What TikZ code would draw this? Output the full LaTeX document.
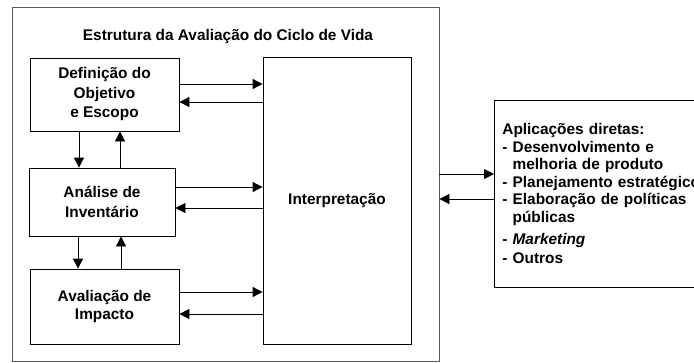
\documentclass[tikz,border=0pt]{standalone}
\usepackage{fontspec}
\setmainfont{Liberation Sans}
\usetikzlibrary{arrows.meta}

\begin{document}
\begin{tikzpicture}[x=1pt, y=-1pt,
        every node/.style={font=\fontsize{15.4}{19.5}\selectfont\bfseries},
        stage/.style={draw=black, line width=0.8pt, align=center, inner sep=0pt},
        flow/.style={-{Triangle[length=10pt, width=10pt]}, line width=0.8pt}]
    \useasboundingbox (0,0) rectangle (694,362);

    \node[draw=black!65, line width=0.8pt, minimum width=427pt, minimum height=354pt, inner sep=0pt] (frame) at (225.5,184) {};
    \node (title) at (228,37) {Estrutura da Avaliação do Ciclo de Vida};

    \node[stage, minimum width=149pt, minimum height=73pt] (def) at (104.5,94.5) {Definição do\\Objetivo\\e Escopo};
    \node[stage, minimum width=146pt, minimum height=68pt] (ana) at (102,202) {Análise de\\Inventário};
    \node[stage, minimum width=149pt, minimum height=75pt, font=\fontsize{15.4}{17.5}\selectfont\bfseries] (ava) at (104.5,306.5) {Avaliação de\\Impacto};
    \node[stage, minimum width=148pt, minimum height=287pt] (interp) at (337,200.5) {Interpretação};

    \node[draw=black, line width=0.8pt, anchor=north west, minimum height=187pt, text width=240pt, inner sep=8pt,
          align=left, font=\fontsize{15.4}{17.5}\selectfont\bfseries] (apl) at (494,100)
        {Aplicações diretas:\\
         - Desenvolvimento e\\
         \phantom{- }melhoria de produto\\
         - Planejamento estratégico\\
         - Elaboração de políticas\\
         \phantom{- }públicas\\[5pt]
         - \textit{Marketing}\\[1.5pt]
         - Outros};

    % stages <-> interpretation
    \draw[flow] ([yshift=10.5pt]def.east) -- ([yshift=10.5pt]def.east -| interp.west);
    \draw[flow] ([yshift=-7.5pt]def.east -| interp.west) -- ([yshift=-7.5pt]def.east);
    \draw[flow] ([yshift=15pt]ana.east) -- ([yshift=15pt]ana.east -| interp.west);
    \draw[flow] ([yshift=-6pt]ana.east -| interp.west) -- ([yshift=-6pt]ana.east);
    \draw[flow] ([yshift=14.5pt]ava.east) -- ([yshift=14.5pt]ava.east -| interp.west);
    \draw[flow] ([yshift=-7.5pt]ava.east -| interp.west) -- ([yshift=-7.5pt]ava.east);

    % between stages
    \draw[flow] ([xshift=-25.5pt]def.south) -- ([xshift=-25.5pt]def.south |- ana.north);
    \draw[flow] ([xshift=15.5pt]def.south |- ana.north) -- ([xshift=15.5pt]def.south);
    \draw[flow] ([xshift=-24pt]ana.south) -- ([xshift=-24pt]ana.south |- ava.north);
    \draw[flow] ([xshift=19pt]ana.south |- ava.north) -- ([xshift=19pt]ana.south);

    % framework <-> applications
    \draw[flow] ([yshift=10pt]frame.east) -- ([yshift=10pt]frame.east -| apl.west);
    \draw[flow] ([yshift=-15pt]frame.east -| apl.west) -- ([yshift=-15pt]frame.east);
\end{tikzpicture}
\end{document}
